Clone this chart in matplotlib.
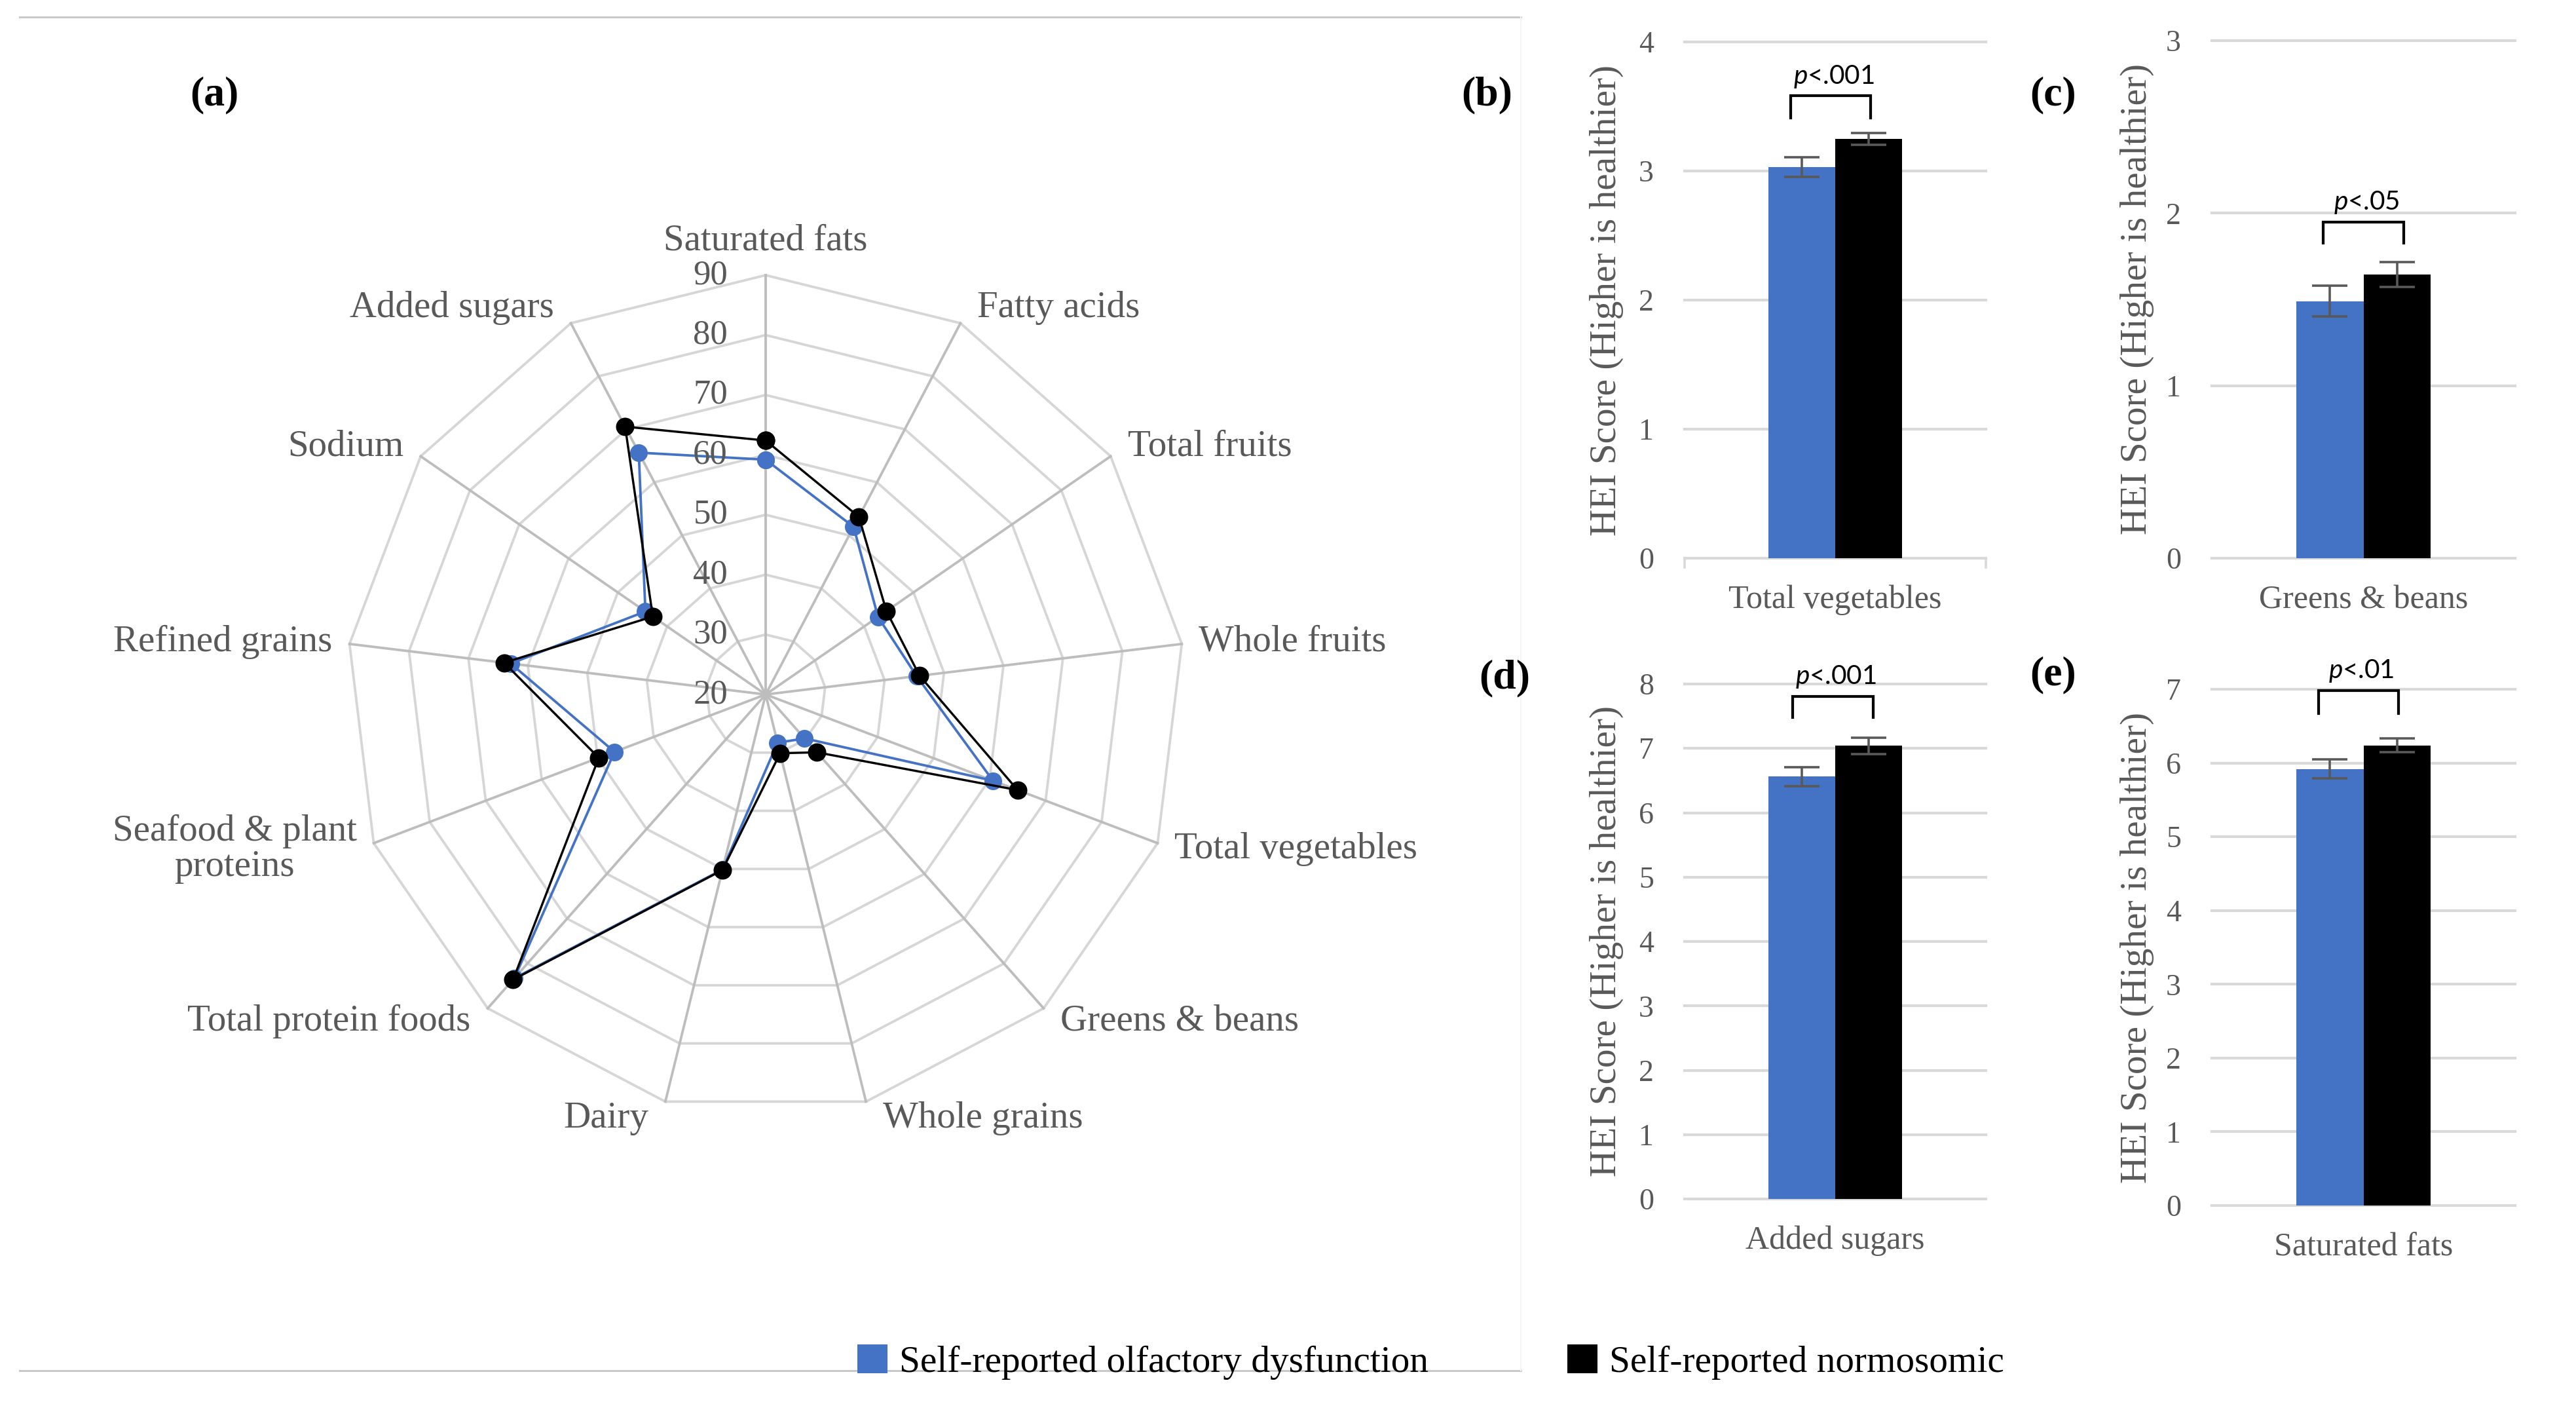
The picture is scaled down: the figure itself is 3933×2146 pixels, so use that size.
import numpy as np
import matplotlib
matplotlib.use("Agg")
import matplotlib.pyplot as plt
from matplotlib.patches import Patch
from matplotlib.lines import Line2D

# ---------------- data ----------------
categories = ["Saturated fats", "Fatty acids", "Total fruits", "Whole fruits",
              "Total vegetables", "Greens & beans", "Whole grains", "Dairy",
              "Total protein foods", "Seafood & plant\nproteins", "Refined grains",
              "Sodium", "Added sugars"]
olfactory_dysfunction = [59.2, 51.6, 42.8, 45.4, 60.6, 29.8, 28.3, 50.1, 83.3, 47.0, 62.9, 44.4, 65.6]
normosomic = [62.4, 53.5, 44.5, 45.9, 65.0, 32.9, 30.1, 50.2, 83.6, 49.8, 64.0, 42.9, 70.5]
radial_ticks = [20, 30, 40, 50, 60, 70, 80, 90]

series_names = ["Self-reported olfactory dysfunction", "Self-reported normosomic"]

bar_categories = ["Total vegetables", "Greens & beans", "Added sugars", "Saturated fats"]
bar_dysfunction = [3.03, 1.49, 6.56, 5.92]
bar_dysfunction_err = [0.077, 0.088, 0.15, 0.13]
bar_normosomic = [3.25, 1.646, 7.04, 6.24]
bar_normosomic_err = [0.045, 0.072, 0.125, 0.095]
bar_ymax = [4, 3, 8, 7]
p_labels = ["<.001", "<.05", "<.001", "<.01"]
panel_letters = ["(b)", "(c)", "(d)", "(e)"]

# ---------------- style ----------------
W, H, DPI = 3933, 2146, 200
BLUE = "#4472C4"
GRAY_TXT = "#595959"
SERIF = ["Liberation Serif", "DejaVu Serif"]
plt.rcParams["mathtext.fontset"] = "custom"
plt.rcParams["mathtext.it"] = "Lato:italic"
plt.rcParams["mathtext.rm"] = "Lato"

fig = plt.figure(figsize=(W / DPI, H / DPI), dpi=DPI)
fig.patch.set_facecolor("white")


def px_rect(x0, y0, x1, y1):
    return [x0 / W, 1 - y1 / H, (x1 - x0) / W, (y1 - y0) / H]


def pt(px):
    return px * 72.0 / DPI


# frame lines of panel (a)
fig.add_artist(Line2D([30 / W, 2322 / W], [1 - 26 / H] * 2, transform=fig.transFigure,
                      color="#c8c8c8", lw=pt(3)))
fig.add_artist(Line2D([30 / W, 2322 / W], [1 - 2092 / H] * 2, transform=fig.transFigure,
                      color="#c8c8c8", lw=pt(3)))
fig.add_artist(Line2D([2322 / W, 2322 / W], [1 - 26 / H, 1 - 2092 / H], transform=fig.transFigure,
                      color="#f3f3f3", lw=pt(2)))

# ---------------- radar (a) ----------------
cx, cy, R = 1169, 1060, 640
axr = fig.add_axes(px_rect(cx - R, cy - R, cx + R, cy + R), projection="polar")
axr.set_theta_zero_location("N")
axr.set_theta_direction(-1)
axr.set_ylim(radial_ticks[0], radial_ticks[-1])
axr.grid(False)
axr.set_xticks([])
axr.set_yticks([])
axr.spines["polar"].set_visible(False)
axr.patch.set_alpha(0)

n = len(categories)
theta = np.arange(n) * 2 * np.pi / n
theta_c = np.append(theta, theta[0])

for r in radial_ticks[1:]:
    axr.plot(theta_c, [r] * (n + 1), color="#d6d6d6", lw=pt(3.8), zorder=1, clip_on=False)
for t in theta:
    axr.plot([t, t], [radial_ticks[0], radial_ticks[-1]], color="#bdbdbd", lw=pt(3.8),
             zorder=1.5, clip_on=False)

v1 = np.append(olfactory_dysfunction, olfactory_dysfunction[0])
v2 = np.append(normosomic, normosomic[0])
axr.plot(theta_c, v1, color=BLUE, lw=pt(3.8), marker="o", markersize=pt(27),
         markeredgewidth=0, zorder=3, clip_on=False)
axr.plot(theta_c, v2, color="black", lw=pt(3.4), marker="o", markersize=pt(28),
         markeredgewidth=0, zorder=4, clip_on=False)

for r in radial_ticks:
    axr.annotate(str(r), xy=(0, r), xytext=(-58, 0), textcoords="offset pixels",
                 ha="right", va="center", fontsize=19, color=GRAY_TXT, family=SERIF,
                 zorder=5, annotation_clip=False)

for t, lab in zip(theta, categories):
    s, c = np.sin(t), np.cos(t)
    if abs(s) < 0.2:
        ha = "center"
        dx, dy = 0, 52 if c > 0 else -45
    else:
        ha = "left" if s > 0 else "right"
        dx = 26 if s > 0 else -26
        dy = 26 * c
    axr.annotate(lab, xy=(t, radial_ticks[-1]), xytext=(dx, dy), textcoords="offset pixels",
                 ha=ha, va="center", multialignment="center", fontsize=20.5,
                 color=GRAY_TXT, family=SERIF, annotation_clip=False, linespacing=1.05)

fig.text(327 / W, 1 - 145 / H, "(a)", ha="center", va="center", fontsize=23,
         fontweight="bold", family=SERIF)

# ---------------- bar panels (b)-(e) ----------------
rects = [(2572, 64, 3032, 852), (3377, 62, 3840, 852),
         (2572, 1044, 3032, 1830), (3377, 1052, 3840, 1840)]
letter_pos = [(2270, 145), (3135, 145), (2297, 1035), (3135, 1030)]
ylabel_x = [2453, 3263, 2453, 3263]
bracket_x = [(-0.148, 0.117), (-0.132, 0.132), (-0.141, 0.126), (-0.149, 0.115)]
bracket_y = [(3.41, 3.583), (1.827, 1.948), (7.486, 7.81), (6.667, 6.98)]
ptext_y = [3.73, 2.063, 8.11, 7.246]
bw = 0.222

for i in range(4):
    x0, y0, x1, y1 = rects[i]
    ax = fig.add_axes(px_rect(x0, y0, x1, y1))
    ax.set_xlim(-0.5, 0.5)
    ax.set_ylim(0, bar_ymax[i])
    ax.set_yticks(range(0, bar_ymax[i] + 1))
    ax.yaxis.grid(True, color="#d9d9d9", lw=pt(4.2))
    ax.set_axisbelow(True)
    for gl in ax.get_ygridlines():
        gl.set_clip_on(False)
    for sp in ax.spines.values():
        sp.set_visible(False)
    ax.tick_params(axis="y", length=0, pad=pt(47), labelsize=16.5, labelcolor=GRAY_TXT)
    for lab in ax.get_yticklabels():
        lab.set_family(SERIF)
    ax.set_xticks([0])
    ax.set_xticklabels([bar_categories[i]], family=SERIF, fontsize=18, color=GRAY_TXT, va="center")
    ax.tick_params(axis="x", length=0, pad=pt(64))
    ax.patch.set_alpha(0)

    ekw = dict(ecolor=GRAY_TXT, elinewidth=pt(3.6), capsize=pt(27), capthick=pt(3.6), zorder=4)
    ax.bar(-bw / 2, bar_dysfunction[i], width=bw, color=BLUE, zorder=2,
           yerr=bar_dysfunction_err[i], error_kw=ekw)
    ax.bar(bw / 2, bar_normosomic[i], width=bw, color="black", zorder=2,
           yerr=bar_normosomic_err[i], error_kw=ekw)

    bx0, bx1 = bracket_x[i]
    by0, by1 = bracket_y[i]
    ax.plot([bx0, bx0, bx1, bx1], [by0, by1, by1, by0], color="black", lw=pt(4.2),
            solid_joinstyle="miter", clip_on=False, zorder=5)
    ax.text((bx0 + bx1) / 2 + 0.01, ptext_y[i], r"$\mathit{p}$" + p_labels[i], ha="center",
            va="center", fontsize=14.6, family="Lato", color="black", zorder=6)

    if i == 0:
        tr = ax.get_xaxis_transform()
        for xe in (-0.5, 0.5):
            ax.plot([xe, xe], [0, -14 / (y1 - y0)], transform=tr, color="#d9d9d9",
                    lw=pt(3.5), clip_on=False)

    fig.text(ylabel_x[i] / W, 1 - ((y0 + y1) / 2) / H, "HEI Score (Higher is healthier)",
             rotation=90, ha="center", va="center", fontsize=20.6, color=GRAY_TXT, family=SERIF)
    lx, ly = letter_pos[i]
    fig.text(lx / W, 1 - ly / H, panel_letters[i], ha="center", va="center", fontsize=23,
             fontweight="bold", family=SERIF)

# ---------------- legend ----------------
handles = [Patch(facecolor=BLUE, edgecolor="none"), Patch(facecolor="black", edgecolor="none")]
fs_leg = 20.6
em = fs_leg * DPI / 72.0
fig.legend(handles, series_names, loc="center left",
           bbox_to_anchor=(1309 / W, 1 - 2079 / H), ncol=2, frameon=False,
           prop={"family": SERIF, "size": fs_leg}, handlelength=46 / em, handleheight=46 / em,
           handletextpad=18 / em, columnspacing=212 / em, borderpad=0, borderaxespad=0)

fig.savefig("out.png", dpi=DPI, facecolor="white")
